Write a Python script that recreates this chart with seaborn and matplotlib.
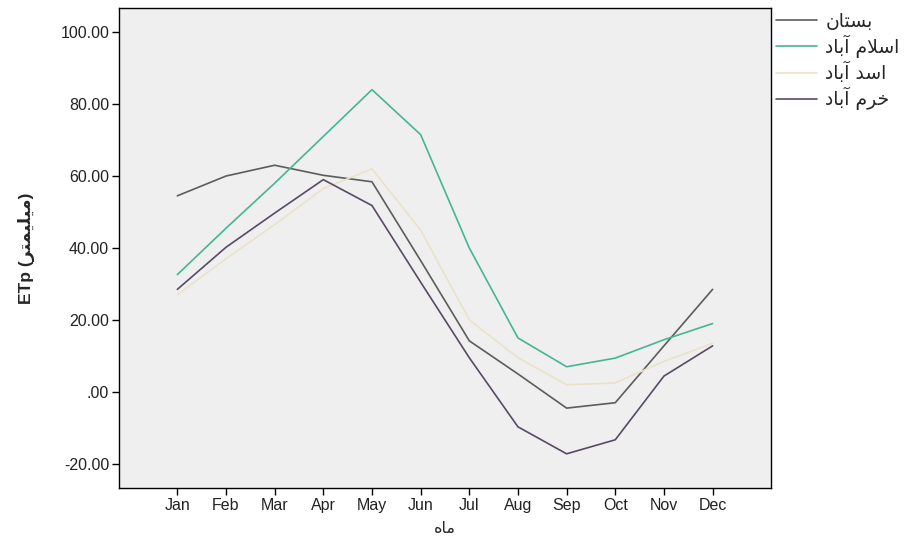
import matplotlib
matplotlib.use("Agg")
import matplotlib.pyplot as plt
from matplotlib.ticker import FixedLocator, FuncFormatter
import seaborn as sns
import pandas as pd

# ---- data -------------------------------------------------------------
months = ["Jan", "Feb", "Mar", "Apr", "May", "Jun",
          "Jul", "Aug", "Sep", "Oct", "Nov", "Dec"]
stations = ["بستان", "اسلام آباد", "اسد آباد", "خرم آباد"]

bostan = [54.5, 60.0, 63.0, 60.2, 58.4, 36.5, 14.2, 5.0, -4.5, -3.0, 12.8, 28.5]
eslamabad = [32.6, 45.5, 58.0, 71.0, 84.0, 71.5, 40.0, 15.0, 7.0, 9.4, 14.5, 19.0]
asadabad = [27.0, 37.0, 46.5, 56.5, 62.0, 45.0, 20.0, 9.5, 2.0, 2.5, 8.5, 13.5]
khorramabad = [28.5, 40.2, 49.7, 59.0, 51.8, 30.5, 9.5, -9.7, -17.2, -13.3, 4.4, 12.8]

yticks = [-20, 0, 20, 40, 60, 80, 100]
colors = ["#5c5c5c", "#45b596", "#ebe3c8", "#584a64"]

# ---- simple Arabic-script shaping (presentation forms, RTL order) ----
FORMS = {
    "ا": ("\uFE8D", "\uFE8E", None, None),
    "آ": ("\uFE81", "\uFE82", None, None),
    "د": ("\uFEA9", "\uFEAA", None, None),
    "ر": ("\uFEAD", "\uFEAE", None, None),
    "ب": ("\uFE8F", "\uFE90", "\uFE91", "\uFE92"),
    "ت": ("\uFE95", "\uFE96", "\uFE97", "\uFE98"),
    "خ": ("\uFEA5", "\uFEA6", "\uFEA7", "\uFEA8"),
    "س": ("\uFEB1", "\uFEB2", "\uFEB3", "\uFEB4"),
    "ل": ("\uFEDD", "\uFEDE", "\uFEDF", "\uFEE0"),
    "م": ("\uFEE1", "\uFEE2", "\uFEE3", "\uFEE4"),
    "ن": ("\uFEE5", "\uFEE6", "\uFEE7", "\uFEE8"),
    "ه": ("\uFEE9", "\uFEEA", "\uFEEB", "\uFEEC"),
    "ی": ("\uFBFC", "\uFBFD", "\uFEF3", "\uFEF4"),
}
LAM_ALEF = {"ا": ("\uFEFB", "\uFEFC"), "آ": ("\uFEF5", "\uFEF6")}


def dual(ch):
    return ch in FORMS and FORMS[ch][2] is not None


def shape(text):
    out = []
    i = 0
    n = len(text)
    while i < n:
        ch = text[i]
        prev = text[i - 1] if i > 0 else ""
        if ch == "ل" and i + 1 < n and text[i + 1] in LAM_ALEF:
            iso, fin = LAM_ALEF[text[i + 1]]
            out.append(fin if dual(prev) else iso)
            i += 2
            continue
        if ch in FORMS:
            nxt = text[i + 1] if i + 1 < n else ""
            jp = dual(prev)
            jn = dual(ch) and nxt in FORMS
            iso, fin, ini, med = FORMS[ch]
            if jp and jn:
                out.append(med)
            elif jp:
                out.append(fin)
            elif jn:
                out.append(ini)
            else:
                out.append(iso)
        else:
            out.append(ch)
        i += 1
    return "".join(reversed(out))


# ---- frame ------------------------------------------------------------
series = [bostan, eslamabad, asadabad, khorramabad]
df = pd.DataFrame({
    "month": [m for _ in stations for m in range(len(months))],
    "etp": [v for s in series for v in s],
    "station": [shape(s) for s in stations for _ in months],
})

sns.set_theme(style="white")
plt.rcParams["font.family"] = ["Liberation Sans", "DejaVu Sans"]

fig = plt.figure(figsize=(9.15, 5.4), dpi=100)
fig.patch.set_facecolor("white")
ax = fig.add_axes([0.130, 0.0963, 0.7126, 0.8889])
ax.set_facecolor("#efefef")

palette = dict(zip([shape(s) for s in stations], colors))
sns.lineplot(data=df, x="month", y="etp", hue="station", palette=palette,
             hue_order=[shape(s) for s in stations], sort=False,
             linewidth=1.2, ax=ax, legend=True)

ax.set_xlim(-1.2, 12.2)
ax.set_ylim(-26.7, 106.7)
ax.xaxis.set_major_locator(FixedLocator(range(len(months))))
ax.set_xticklabels(months)
ax.yaxis.set_major_locator(FixedLocator(yticks))


def fmt(v, _):
    s = f"{v:.2f}"
    if s.startswith("0"):
        s = s[1:]
    return s


ax.yaxis.set_major_formatter(FuncFormatter(fmt))
ax.tick_params(axis="both", direction="out", length=5, width=1,
               color="black", labelsize=11.5, labelcolor="#222222", pad=2,
               bottom=True, left=True)
for sp in ax.spines.values():
    sp.set_color("black")
    sp.set_linewidth(1.0)

ax.set_xlabel(shape("ماه"), fontsize=11.5, family=["DejaVu Sans"], labelpad=6)
ax.set_ylabel("ETp (" + shape("میلیمتر") + ")", fontsize=12.5,
              fontweight="bold", family=["Liberation Sans", "DejaVu Sans"],
              labelpad=18)

handles, labels = ax.get_legend_handles_labels()
ax.legend(handles, labels, loc="upper left", bbox_to_anchor=(1.002, 1.0),
          frameon=False, handlelength=2.2, handletextpad=0.42,
          labelspacing=0.21, borderaxespad=0.2, borderpad=0.0,
          prop={"family": ["DejaVu Sans"], "size": 13.5})

fig.savefig("out.png", dpi=100)
